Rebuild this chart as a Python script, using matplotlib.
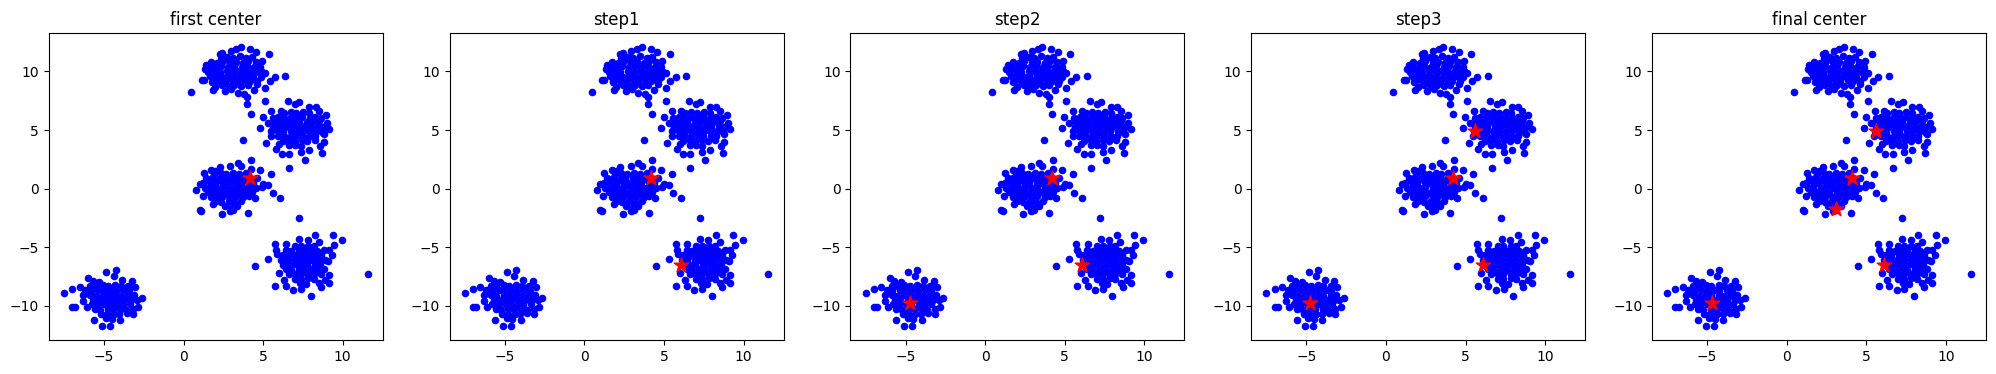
import numpy as np
import matplotlib
matplotlib.use("Agg")
import matplotlib.pyplot as plt

# points, cluster by cluster (x, y)
cluster_a = [
    (0.46, 8.24), (1.13, 9.29), (1.26, 9.26), (1.34, 10.2), (1.42, 10.57), (1.5, 10.35), (1.78, 9.07),
    (1.84, 8.44), (2.26, 11.53), (2.41, 11.6), (2.95, 11.76), (3.31, 11.9), (3.6, 12.1), (4.16, 11.9),
    (4.56, 11.67), (5.36, 11.47), (4.9, 10.9), (4.88, 10.0), (5.1, 9.9), (5.73, 9.5), (6.4, 9.6),
    (5.1, 8.6), (5.1, 7.5), (4.0, 7.8), (4.0, 7.2), (4.23, 6.4), (3.4, 8.2), (2.6, 8.3), (2.0, 8.7),
    (3.0, 8.5), (4.4, 8.4), (3.8, 8.1), (4.6, 8.9), (5.4, 9.2),
    (2.33, 11.18), (2.74, 11.25), (3.08, 11.16), (3.52, 11.3), (3.91, 11.12), (4.28, 11.24),
    (1.72, 10.83), (2.12, 10.76), (2.46, 10.88), (2.93, 10.79), (3.28, 10.85), (3.73, 10.74), (4.07, 10.86), (4.52, 10.78),
    (1.63, 10.41), (2.04, 10.36), (2.38, 10.45), (2.82, 10.38), (3.17, 10.43), (3.64, 10.35), (3.98, 10.44), (4.42, 10.37), (4.83, 10.42),
    (1.52, 9.98), (1.93, 10.04), (2.27, 9.97), (2.73, 10.05), (3.12, 9.96), (3.48, 10.03), (3.93, 9.98), (4.31, 10.06), (4.72, 9.95),
    (1.64, 9.58), (2.02, 9.64), (2.43, 9.56), (2.78, 9.63), (3.23, 9.57), (3.62, 9.65), (4.03, 9.58), (4.38, 9.62), (4.84, 9.57),
    (1.83, 9.18), (2.24, 9.22), (2.62, 9.16), (3.03, 9.24), (3.37, 9.17), (3.82, 9.23), (4.18, 9.16), (4.63, 9.21),
    (2.42, 8.82), (2.83, 8.77), (3.18, 8.84), (3.63, 8.78), (4.02, 8.83),
]

cluster_b = [
    (4.83, 5.2), (4.98, 6.1), (5.52, 6.65), (6.09, 6.65), (6.57, 7.5), (7.28, 7.36), (7.9, 6.94),
    (8.52, 6.65), (8.95, 6.28), (9.15, 5.1), (8.8, 4.67), (8.8, 3.96), (8.7, 3.05), (7.6, 2.4),
    (7.4, 3.1), (6.65, 1.8), (6.2, 2.96), (5.8, 3.4), (5.2, 3.9), (3.72, 4.15), (6.65, 2.96),
    (5.5, 4.5), (5.3, 5.6), (5.6, 6.0), (7.0, 7.2), (8.3, 7.0), (9.0, 5.6), (8.6, 3.6), (7.9, 3.3), (6.0, 3.8),
    (6.32, 6.48), (6.73, 6.55), (7.08, 6.46), (7.52, 6.53), (7.88, 6.47),
    (5.93, 6.12), (6.28, 6.06), (6.72, 6.14), (7.13, 6.08), (7.47, 6.13), (7.92, 6.05), (8.27, 6.12), (8.63, 6.07),
    (5.72, 5.68), (6.13, 5.74), (6.48, 5.66), (6.93, 5.73), (7.27, 5.67), (7.73, 5.72), (8.08, 5.66), (8.52, 5.74),
    (5.62, 5.27), (6.03, 5.33), (6.38, 5.26), (6.83, 5.34), (7.18, 5.28), (7.62, 5.32), (7.98, 5.25), (8.43, 5.31), (8.78, 5.27),
    (5.52, 4.88), (5.93, 4.94), (6.27, 4.86), (6.72, 4.93), (7.08, 4.87), (7.53, 4.95), (7.87, 4.88), (8.32, 4.92), (8.68, 4.86),
    (5.92, 4.48), (6.28, 4.53), (6.73, 4.46), (7.12, 4.54), (7.48, 4.47), (7.93, 4.52), (8.27, 4.48),
    (6.22, 4.08), (6.63, 4.13), (6.98, 4.06), (7.42, 4.12), (7.78, 4.07), (8.23, 4.12),
    (6.62, 3.68), (7.03, 3.73), (7.38, 3.66),
]

cluster_c = [
    (0.8, -0.1), (1.0, -1.86), (1.1, -1.9), (1.26, 1.32), (1.74, 1.55), (2.26, 1.83), (2.9, 1.97),
    (3.4, 2.2), (3.6, 1.9), (4.25, 2.45), (4.25, 1.69), (4.83, 1.55), (5.5, 1.26), (5.0, 0.41),
    (4.9, 0.1), (5.6, -0.38), (6.07, -0.78), (4.46, -0.78), (4.04, -2.08), (3.1, -1.86), (2.9, -1.9),
    (2.4, -2.14), (1.84, -1.29), (1.2, -0.6), (1.0, 0.4), (5.3, 0.3), (2.0, 1.5),
    (1.92, 1.28), (2.33, 1.34), (2.68, 1.27), (3.12, 1.33), (3.48, 1.26), (3.92, 1.32),
    (1.43, 0.88), (1.78, 0.93), (2.22, 0.86), (2.58, 0.94), (3.03, 0.87), (3.38, 0.92), (3.82, 0.86), (4.17, 0.93), (4.62, 0.88),
    (1.22, 0.48), (1.63, 0.53), (1.98, 0.46), (2.43, 0.54), (2.78, 0.47), (3.23, 0.52), (3.58, 0.46), (4.03, 0.53), (4.38, 0.47),
    (1.32, 0.08), (1.68, 0.13), (2.13, 0.06), (2.48, 0.14), (2.93, 0.07), (3.28, 0.12), (3.73, 0.06), (4.08, 0.13), (4.53, 0.08),
    (1.52, -0.28), (1.88, -0.33), (2.33, -0.26), (2.68, -0.34), (3.13, -0.27), (3.48, -0.32), (3.93, -0.26), (4.28, -0.33),
    (1.72, -0.68), (2.13, -0.73), (2.48, -0.66), (2.93, -0.72), (3.28, -0.67), (3.73, -0.74), (4.08, -0.67),
    (2.02, -1.08), (2.38, -1.13), (2.83, -1.06), (3.18, -1.12), (3.63, -1.07),
    (2.62, -1.48), (3.03, -1.53), (3.38, -1.46),
]

cluster_d = [
    (7.24, -2.48), (8.28, -3.93), (9.37, -4.0), (9.94, -4.35), (9.44, -4.84), (9.16, -5.26), (9.06, -6.2),
    (9.16, -7.39), (9.16, -8.1), (8.64, -8.44), (8.0, -9.18), (6.9, -8.67), (6.44, -8.33), (5.77, -8.33),
    (6.0, -7.19), (5.3, -5.97), (4.48, -6.62), (5.73, -4.69), (5.8, -5.2), (6.44, -4.69), (7.27, -4.27),
    (7.8, -4.4), (11.57, -7.25), (8.5, -4.6), (9.3, -5.7), (8.9, -7.8), (7.4, -8.6), (6.3, -7.8), (5.9, -5.6),
    (7.02, -4.88), (7.38, -4.93), (7.83, -4.87), (8.18, -4.92),
    (6.42, -5.28), (6.78, -5.33), (7.23, -5.27), (7.58, -5.34), (8.03, -5.28), (8.38, -5.32), (8.82, -5.27),
    (6.22, -5.68), (6.58, -5.73), (7.03, -5.67), (7.38, -5.72), (7.82, -5.66), (8.18, -5.73), (8.62, -5.68),
    (6.12, -6.08), (6.48, -6.13), (6.93, -6.07), (7.28, -6.12), (7.72, -6.06), (8.08, -6.13), (8.53, -6.08), (8.88, -6.12),
    (6.22, -6.48), (6.63, -6.53), (6.98, -6.46), (7.43, -6.52), (7.78, -6.47), (8.23, -6.53), (8.58, -6.48),
    (6.42, -6.88), (6.78, -6.93), (7.23, -6.87), (7.58, -6.92), (8.03, -6.86), (8.38, -6.93), (8.82, -6.88),
    (6.62, -7.28), (7.03, -7.33), (7.38, -7.27), (7.83, -7.32), (8.18, -7.26), (8.62, -7.33),
    (7.02, -7.68), (7.38, -7.73), (7.83, -7.67), (8.18, -7.72),
    (7.32, -8.08), (7.68, -8.13), (8.52, -8.07),
]

cluster_e = [
    (-7.51, -8.95), (-7.0, -8.55), (-7.0, -10.08), (-6.8, -10.1), (-6.53, -8.4), (-6.0, -7.6), (-5.7, -7.9),
    (-4.85, -7.1), (-4.27, -6.96), (-3.85, -7.8), (-3.24, -7.9), (-3.05, -8.38), (-2.64, -9.37),
    (-2.85, -10.14), (-3.18, -10.7), (-4.0, -11.2), (-4.6, -11.73), (-5.1, -11.73), (-5.6, -11.22),
    (-6.1, -10.08), (-6.3, -9.6), (-5.3, -8.0), (-4.4, -7.5), (-3.4, -9.2), (-6.3, -9.1),
    (-5.88, -8.28), (-5.53, -8.33), (-5.08, -8.27), (-4.73, -8.32), (-4.28, -8.26), (-3.93, -8.33), (-3.48, -8.28),
    (-6.18, -8.68), (-5.83, -8.73), (-5.38, -8.67), (-5.03, -8.72), (-4.58, -8.66), (-4.23, -8.73), (-3.78, -8.68), (-3.43, -8.72),
    (-5.88, -9.08), (-5.53, -9.13), (-5.08, -9.07), (-4.73, -9.12), (-4.28, -9.06), (-3.93, -9.13), (-3.48, -9.08), (-3.12, -9.12),
    (-5.68, -9.48), (-5.33, -9.53), (-4.88, -9.47), (-4.53, -9.52), (-4.08, -9.46), (-3.73, -9.53), (-3.28, -9.48), (-2.93, -9.52),
    (-5.78, -9.88), (-5.43, -9.93), (-4.98, -9.87), (-4.63, -9.92), (-4.18, -9.86), (-3.83, -9.93), (-3.38, -9.88),
    (-5.58, -10.28), (-5.23, -10.33), (-4.78, -10.27), (-4.43, -10.32), (-3.98, -10.26), (-3.63, -10.33), (-3.18, -10.28),
    (-5.18, -10.68), (-4.83, -10.73), (-4.38, -10.67), (-4.03, -10.72), (-3.58, -10.66),
    (-4.88, -11.08), (-4.53, -11.13),
]

titles = ["first center", "step1", "step2", "step3", "final center"]

# red star centers shown in each panel
center_x = [
    [4.2],
    [4.2, 6.1],
    [4.2, 6.1, -4.7],
    [5.6, 4.2, 6.1, -4.8],
    [5.6, 4.1, 3.1, 6.1, -4.7],
]
center_y = [
    [0.9],
    [0.9, -6.5],
    [0.9, -6.5, -9.8],
    [4.9, 0.9, -6.5, -9.8],
    [4.9, 0.9, -1.7, -6.5, -9.8],
]

pts = np.array(cluster_a + cluster_b + cluster_c + cluster_d + cluster_e)

fig, axes = plt.subplots(1, 5, figsize=(19.96, 3.74), dpi=100)
fig.subplots_adjust(left=0.0245, right=0.995, top=0.912, bottom=0.091, wspace=0.2)

for i, ax in enumerate(axes):
    ax.scatter(pts[:, 0], pts[:, 1], c="blue", s=20)
    ax.scatter(center_x[i], center_y[i], c="red", marker="*", s=120)
    ax.set_title(titles[i])

fig.savefig("out.png", dpi=100)
